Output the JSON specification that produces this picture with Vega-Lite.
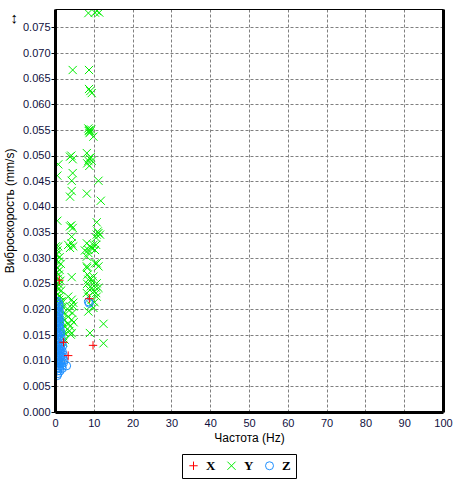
{
  "$schema": "https://vega.github.io/schema/vega-lite/v6.json",
  "autosize": "none",
  "width": 388,
  "height": 403,
  "padding": {"left": 55, "top": 9, "right": 31, "bottom": 68},
  "background": "white",
  "config": {"view": {"stroke": null}, "font": "Liberation Sans"},
  "title": {"text": "↕", "anchor": "start", "frame": "bounds", "fontSize": 15, "fontWeight": "bold", "color": "black", "offset": -18, "dx": 7},
  "data": {"values": [
    {"series":"Y","freq":8.6,"vel":0.0778},{"series":"Y","freq":10.3,"vel":0.0779},{"series":"Y","freq":11.4,"vel":0.0779},{"series":"Y","freq":10.8,"vel":0.0782},
    {"series":"Y","freq":4.56,"vel":0.0667},{"series":"Y","freq":8.77,"vel":0.0667},
    {"series":"Y","freq":8.77,"vel":0.0630},{"series":"Y","freq":9.47,"vel":0.0622},{"series":"Y","freq":9.1,"vel":0.0626},
    {"series":"Y","freq":8.85,"vel":0.0550},{"series":"Y","freq":8.6,"vel":0.0553},{"series":"Y","freq":9.1,"vel":0.0547},{"series":"Y","freq":8.9,"vel":0.0544},{"series":"Y","freq":9.3,"vel":0.0551},{"series":"Y","freq":9.9,"vel":0.0537},{"series":"Y","freq":8.7,"vel":0.0548},
    {"series":"Y","freq":3.87,"vel":0.0498},{"series":"Y","freq":4.56,"vel":0.0493},{"series":"Y","freq":4.2,"vel":0.0500},
    {"series":"Y","freq":0.85,"vel":0.0483},
    {"series":"Y","freq":8.2,"vel":0.0505},{"series":"Y","freq":8.85,"vel":0.0495},{"series":"Y","freq":9.47,"vel":0.0490},{"series":"Y","freq":8.3,"vel":0.0485},{"series":"Y","freq":8.85,"vel":0.0480},{"series":"Y","freq":9.2,"vel":0.0497},{"series":"Y","freq":8.6,"vel":0.0490},
    {"series":"Y","freq":0.6,"vel":0.0461},{"series":"Y","freq":4.56,"vel":0.0466},{"series":"Y","freq":4.3,"vel":0.0451},{"series":"Y","freq":11.2,"vel":0.0451},
    {"series":"Y","freq":4.3,"vel":0.0431},{"series":"Y","freq":3.87,"vel":0.0420},{"series":"Y","freq":8.2,"vel":0.0426},{"series":"Y","freq":11.8,"vel":0.0412},
    {"series":"Y","freq":0.6,"vel":0.0373},{"series":"Y","freq":10.75,"vel":0.0370},
    {"series":"Y","freq":3.87,"vel":0.0362},{"series":"Y","freq":4.56,"vel":0.0359},{"series":"Y","freq":4.2,"vel":0.0364},
    {"series":"Y","freq":11.2,"vel":0.0349},{"series":"Y","freq":10.75,"vel":0.0346},{"series":"Y","freq":11.6,"vel":0.0346},{"series":"Y","freq":10.6,"vel":0.0340},{"series":"Y","freq":11.0,"vel":0.0352},
    {"series":"Y","freq":4.3,"vel":0.0342},
    {"series":"Y","freq":3.4,"vel":0.0326},{"series":"Y","freq":4.7,"vel":0.0323},{"series":"Y","freq":3.87,"vel":0.0320},{"series":"Y","freq":4.3,"vel":0.0329},
    {"series":"Y","freq":8.2,"vel":0.0329},{"series":"Y","freq":9.0,"vel":0.0323},{"series":"Y","freq":8.6,"vel":0.0316},{"series":"Y","freq":9.47,"vel":0.0320},{"series":"Y","freq":9.9,"vel":0.0326},{"series":"Y","freq":8.2,"vel":0.0303},{"series":"Y","freq":7.7,"vel":0.0315},{"series":"Y","freq":8.6,"vel":0.0310},
    {"series":"Y","freq":10.6,"vel":0.0326},{"series":"Y","freq":10.3,"vel":0.0316},
    {"series":"Y","freq":0.85,"vel":0.0323},{"series":"Y","freq":0.45,"vel":0.0307},{"series":"Y","freq":0.2,"vel":0.0323},
    {"series":"Y","freq":10.75,"vel":0.0290},{"series":"Y","freq":8.2,"vel":0.0284},{"series":"Y","freq":10.3,"vel":0.0290},{"series":"Y","freq":11.2,"vel":0.0284},
    {"series":"Y","freq":8.3,"vel":0.0281},{"series":"Y","freq":8.4,"vel":0.0268},
    {"series":"Y","freq":4.3,"vel":0.0263},
    {"series":"Y","freq":9.0,"vel":0.0261},{"series":"Y","freq":8.6,"vel":0.0258},{"series":"Y","freq":9.9,"vel":0.0264},{"series":"Y","freq":10.75,"vel":0.0251},{"series":"Y","freq":11.2,"vel":0.0242},{"series":"Y","freq":10.06,"vel":0.0235},{"series":"Y","freq":10.75,"vel":0.0225},{"series":"Y","freq":8.6,"vel":0.0225},{"series":"Y","freq":9.47,"vel":0.0219},{"series":"Y","freq":9.9,"vel":0.0203},{"series":"Y","freq":8.6,"vel":0.0196},{"series":"Y","freq":9.2,"vel":0.0245},{"series":"Y","freq":8.3,"vel":0.0250},{"series":"Y","freq":9.6,"vel":0.0255},{"series":"Y","freq":10.4,"vel":0.0243},{"series":"Y","freq":9.0,"vel":0.0238},{"series":"Y","freq":8.2,"vel":0.0232},{"series":"Y","freq":10.2,"vel":0.0214},{"series":"Y","freq":9.3,"vel":0.0208},{"series":"Y","freq":10.6,"vel":0.0232},
    {"series":"Y","freq":12.5,"vel":0.0172},{"series":"Y","freq":9.0,"vel":0.0154},{"series":"Y","freq":12.5,"vel":0.0134},
    {"series":"Y","freq":3.4,"vel":0.0225},{"series":"Y","freq":4.3,"vel":0.0219},{"series":"Y","freq":3.87,"vel":0.0206},{"series":"Y","freq":4.7,"vel":0.0206},{"series":"Y","freq":3.4,"vel":0.0186},{"series":"Y","freq":4.3,"vel":0.0180},{"series":"Y","freq":3.87,"vel":0.0167},{"series":"Y","freq":4.3,"vel":0.0154},{"series":"Y","freq":4.05,"vel":0.0151},{"series":"Y","freq":4.7,"vel":0.0213},{"series":"Y","freq":3.6,"vel":0.0198},{"series":"Y","freq":4.5,"vel":0.0193},{"series":"Y","freq":3.5,"vel":0.0172},{"series":"Y","freq":4.8,"vel":0.0175},{"series":"Y","freq":3.7,"vel":0.0158},
    {"series":"Y","freq":0.3,"vel":0.0297},{"series":"Y","freq":0.9,"vel":0.0293},{"series":"Y","freq":1.5,"vel":0.0289},{"series":"Y","freq":0.2,"vel":0.0285},{"series":"Y","freq":0.7,"vel":0.0281},{"series":"Y","freq":1.2,"vel":0.0277},{"series":"Y","freq":0.4,"vel":0.0272},{"series":"Y","freq":1.0,"vel":0.0268},{"series":"Y","freq":0.2,"vel":0.0264},{"series":"Y","freq":0.8,"vel":0.0260},{"series":"Y","freq":1.4,"vel":0.0256},{"series":"Y","freq":0.5,"vel":0.0252},{"series":"Y","freq":1.1,"vel":0.0248},{"series":"Y","freq":0.3,"vel":0.0244},{"series":"Y","freq":0.9,"vel":0.0240},{"series":"Y","freq":1.6,"vel":0.0237},{"series":"Y","freq":0.2,"vel":0.0233},{"series":"Y","freq":0.7,"vel":0.0229},{"series":"Y","freq":1.3,"vel":0.0226},{"series":"Y","freq":0.5,"vel":0.0222},{"series":"Y","freq":1.1,"vel":0.0219},{"series":"Y","freq":1.8,"vel":0.0216},{"series":"Y","freq":1.5,"vel":0.0210},{"series":"Y","freq":2.0,"vel":0.0205},{"series":"Y","freq":1.7,"vel":0.0199},{"series":"Y","freq":2.2,"vel":0.0193},{"series":"Y","freq":1.6,"vel":0.0187},{"series":"Y","freq":2.1,"vel":0.0181},{"series":"Y","freq":1.8,"vel":0.0175},{"series":"Y","freq":2.3,"vel":0.0168},{"series":"Y","freq":1.9,"vel":0.0162},{"series":"Y","freq":2.4,"vel":0.0155},{"series":"Y","freq":2.0,"vel":0.0148},{"series":"Y","freq":2.5,"vel":0.0141},{"series":"Y","freq":2.1,"vel":0.0135},{"series":"Y","freq":1.4,"vel":0.0215},{"series":"Y","freq":1.2,"vel":0.0200},{"series":"Y","freq":1.3,"vel":0.0180},{"series":"Y","freq":1.5,"vel":0.0160},{"series":"Y","freq":0.2,"vel":0.0307},{"series":"Y","freq":0.6,"vel":0.0315},{"series":"Y","freq":1.2,"vel":0.0302},
    {"series":"Z","freq":0.2,"vel":0.0216},{"series":"Z","freq":0.7,"vel":0.0216},
    {"series":"Z","freq":0.4,"vel":0.0211},{"series":"Z","freq":1.0,"vel":0.0211},
    {"series":"Z","freq":0.1,"vel":0.0206},{"series":"Z","freq":0.6,"vel":0.0206},{"series":"Z","freq":1.1,"vel":0.0206},
    {"series":"Z","freq":0.3,"vel":0.0200},{"series":"Z","freq":0.9,"vel":0.0200},
    {"series":"Z","freq":0.2,"vel":0.0195},{"series":"Z","freq":0.7,"vel":0.0195},{"series":"Z","freq":1.2,"vel":0.0195},
    {"series":"Z","freq":0.4,"vel":0.0189},{"series":"Z","freq":1.0,"vel":0.0189},
    {"series":"Z","freq":0.1,"vel":0.0184},{"series":"Z","freq":0.6,"vel":0.0184},{"series":"Z","freq":1.1,"vel":0.0184},
    {"series":"Z","freq":0.3,"vel":0.0178},{"series":"Z","freq":0.8,"vel":0.0178},{"series":"Z","freq":1.3,"vel":0.0178},
    {"series":"Z","freq":0.2,"vel":0.0173},{"series":"Z","freq":0.7,"vel":0.0173},{"series":"Z","freq":1.2,"vel":0.0173},
    {"series":"Z","freq":0.4,"vel":0.0167},{"series":"Z","freq":1.0,"vel":0.0167},
    {"series":"Z","freq":0.1,"vel":0.0162},{"series":"Z","freq":0.6,"vel":0.0162},{"series":"Z","freq":1.3,"vel":0.0162},
    {"series":"Z","freq":0.3,"vel":0.0156},{"series":"Z","freq":0.9,"vel":0.0156},{"series":"Z","freq":1.5,"vel":0.0156},
    {"series":"Z","freq":0.2,"vel":0.0151},{"series":"Z","freq":0.7,"vel":0.0151},{"series":"Z","freq":1.2,"vel":0.0151},
    {"series":"Z","freq":0.4,"vel":0.0145},{"series":"Z","freq":1.0,"vel":0.0145},{"series":"Z","freq":1.6,"vel":0.0145},
    {"series":"Z","freq":0.1,"vel":0.0140},{"series":"Z","freq":0.6,"vel":0.0140},{"series":"Z","freq":1.3,"vel":0.0140},
    {"series":"Z","freq":0.3,"vel":0.0134},{"series":"Z","freq":0.9,"vel":0.0134},{"series":"Z","freq":1.7,"vel":0.0134},
    {"series":"Z","freq":0.2,"vel":0.0129},{"series":"Z","freq":0.8,"vel":0.0129},{"series":"Z","freq":1.4,"vel":0.0129},{"series":"Z","freq":2.0,"vel":0.0129},
    {"series":"Z","freq":0.4,"vel":0.0123},{"series":"Z","freq":1.0,"vel":0.0123},{"series":"Z","freq":1.6,"vel":0.0123},
    {"series":"Z","freq":0.1,"vel":0.0118},{"series":"Z","freq":0.7,"vel":0.0118},{"series":"Z","freq":1.3,"vel":0.0118},{"series":"Z","freq":1.9,"vel":0.0118},
    {"series":"Z","freq":0.3,"vel":0.0112},{"series":"Z","freq":0.9,"vel":0.0112},{"series":"Z","freq":1.5,"vel":0.0112},{"series":"Z","freq":2.1,"vel":0.0112},
    {"series":"Z","freq":0.2,"vel":0.0107},{"series":"Z","freq":0.8,"vel":0.0107},{"series":"Z","freq":1.4,"vel":0.0107},{"series":"Z","freq":2.0,"vel":0.0107},
    {"series":"Z","freq":0.4,"vel":0.0101},{"series":"Z","freq":1.0,"vel":0.0101},{"series":"Z","freq":1.6,"vel":0.0101},{"series":"Z","freq":2.3,"vel":0.0101},
    {"series":"Z","freq":0.3,"vel":0.0096},{"series":"Z","freq":0.9,"vel":0.0096},{"series":"Z","freq":1.5,"vel":0.0096},{"series":"Z","freq":2.2,"vel":0.0096},
    {"series":"Z","freq":0.5,"vel":0.0090},{"series":"Z","freq":1.1,"vel":0.0090},{"series":"Z","freq":1.8,"vel":0.0090},{"series":"Z","freq":3.0,"vel":0.0090},
    {"series":"Z","freq":0.6,"vel":0.0085},{"series":"Z","freq":1.2,"vel":0.0085},{"series":"Z","freq":1.9,"vel":0.0085},
    {"series":"Z","freq":0.7,"vel":0.0080},{"series":"Z","freq":1.3,"vel":0.0080},
    {"series":"Z","freq":0.8,"vel":0.0075},{"series":"Z","freq":0.6,"vel":0.0071},
    {"series":"Z","freq":8.85,"vel":0.0212},{"series":"Z","freq":8.6,"vel":0.0215},
    {"series":"X","freq":9.8,"vel":0.0130},{"series":"X","freq":3.4,"vel":0.0110},{"series":"X","freq":2.2,"vel":0.0136},
    {"series":"X","freq":8.85,"vel":0.0221},{"series":"X","freq":1.1,"vel":0.0257}
  ]},
  "layer": [
    {
      "mark": {"type": "point", "filled": false, "strokeWidth": 1, "clip": true, "opacity": 1},
      "encoding": {
        "x": {"field": "freq", "type": "quantitative", "scale": {"domain": [0, 100], "nice": false},
          "axis": {"orient": "bottom", "values": [0,10,20,30,40,50,60,70,80,90,100], "title": "Частота (Hz)", "domain": false, "ticks": false, "grid": true, "gridColor": "#808080", "gridDash": [3,2], "gridWidth": 1, "gridOpacity": 1, "labelFlush": false, "labelOverlap": false, "labelFont": "Liberation Sans", "labelFontSize": 11, "labelColor": "#101040", "labelPadding": 5, "titleFont": "Liberation Sans", "titleFontSize": 12, "titleFontWeight": "normal", "titleColor": "black", "titlePadding": 4, "zindex": 0}},
        "y": {"field": "vel", "type": "quantitative", "scale": {"domain": [0, 0.0786], "nice": false, "zero": false},
          "axis": {"orient": "left", "values": [0,0.005,0.01,0.015,0.02,0.025,0.03,0.035,0.04,0.045,0.05,0.055,0.06,0.065,0.07,0.075], "format": ".3f", "title": "Виброскорость (mm/s)", "domain": false, "ticks": false, "grid": true, "gridColor": "#808080", "gridDash": [3,2], "gridWidth": 1, "gridOpacity": 1, "labelFlush": false, "labelOverlap": false, "labelFont": "Liberation Sans", "labelFontSize": 11, "labelColor": "#101040", "labelPadding": 5, "titleFont": "Liberation Sans", "titleFontSize": 12, "titleFontWeight": "normal", "titleColor": "black", "titlePadding": 6, "zindex": 0}},
        "color": {"field": "series", "type": "nominal", "scale": {"domain": ["X","Y","Z"], "range": ["#ff0000","#00ee00","#1e90ff"]},
          "legend": {"title": null, "orient": "none", "legendX": 127, "legendY": 445, "direction": "horizontal", "strokeColor": "black", "padding": 5, "labelFont": "Liberation Serif", "labelFontWeight": "bold", "labelFontSize": 13, "labelColor": "black", "symbolStrokeWidth": 1, "columnPadding": 9, "labelOffset": 6}},
        "shape": {"field": "series", "type": "nominal", "scale": {"domain": ["X","Y","Z"], "range": ["M-1,0L1,0M0,-1L0,1", "M-1,-1L1,1M-1,1L1,-1", "circle"]}},
        "size": {"field": "series", "type": "nominal", "scale": {"domain": ["X","Y","Z"], "range": [70, 64, 40]}}
      }
    },
    {
      "mark": {"type": "point", "opacity": 0},
      "encoding": {
        "x": {"field": "freq", "type": "quantitative", "axis": {"orient": "bottom", "labels": false, "ticks": false, "grid": false, "title": null, "domain": true, "domainColor": "black", "domainWidth": 3, "zindex": 2}},
        "y": {"field": "vel", "type": "quantitative", "axis": {"orient": "left", "values": [0,0.005,0.01,0.015,0.02,0.025,0.03,0.035,0.04,0.045,0.05,0.055,0.06,0.065,0.07,0.075], "labels": false, "ticks": true, "tickSize": 4, "tickColor": "black", "grid": false, "title": null, "domain": true, "domainColor": "black", "domainWidth": 3, "zindex": 2}}
      }
    },
    {
      "mark": {"type": "point", "opacity": 0},
      "encoding": {
        "x": {"field": "freq", "type": "quantitative", "axis": {"orient": "top", "labels": false, "ticks": false, "grid": false, "title": null, "domain": true, "domainColor": "black", "domainWidth": 1, "zindex": 2}},
        "y": {"field": "vel", "type": "quantitative", "axis": {"orient": "right", "labels": false, "ticks": false, "grid": false, "title": null, "domain": true, "domainColor": "black", "domainWidth": 3, "zindex": 2}}
      }
    }
  ],
  "resolve": {"axis": {"x": "independent", "y": "independent"}}
}
